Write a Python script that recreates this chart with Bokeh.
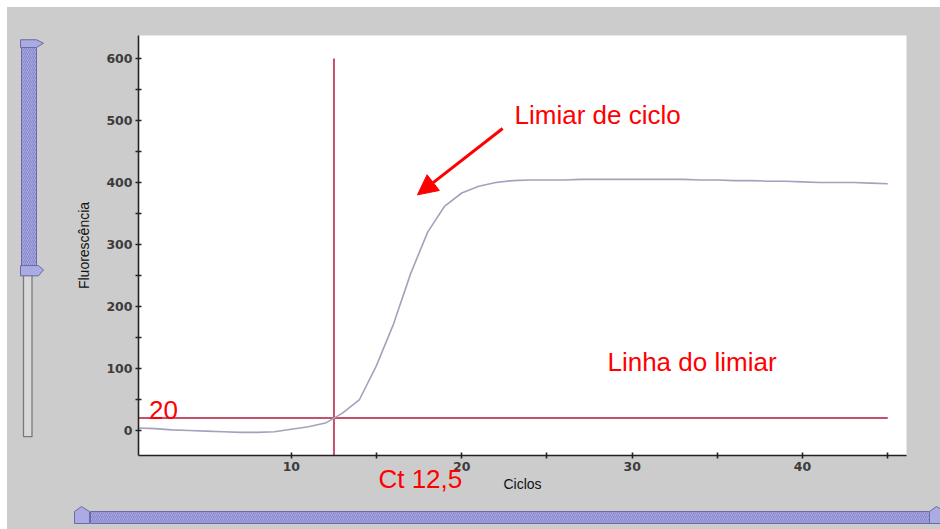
from bokeh.plotting import figure
from bokeh.models import Range1d, FixedTicker, Label, Arrow, NormalHead, LinearAxis, Spacer
from bokeh.layouts import column, row
from bokeh.embed import file_html
from bokeh.resources import INLINE

# ---- data ----
cycles = list(range(1, 46))
fluorescence = [4, 3, 1, 0, -1, -2, -3, -3, -2, 2, 6, 12, 28, 50, 105, 172, 253, 320, 362, 383,
                394, 400, 403, 404, 404, 404, 405, 405, 405, 405, 405, 405, 405, 404, 404, 403,
                403, 402, 402, 401, 400, 400, 400, 399, 398]
ct_value = 12.5
ct_text = "Ct 12,5"
threshold = 20
ct_line_top = 600
threshold_x = [1, 45]
x_major_ticks = [10, 20, 30, 40]
x_minor_ticks = [15, 25, 35, 45]
y_major_ticks = [0, 100, 200, 300, 400, 500, 600]
y_minor_ticks = [50, 150, 250, 350, 450, 550]

BG = "#cccccc"
RED_LINE = "#c4506c"
CURVE = "#a2a2bc"
FONT = "Liberation Sans"

# ---- main chart ----
p = figure(width=880, height=491, x_range=Range1d(1.03, 46.1), y_range=Range1d(-40.3, 637),
           output_backend="svg", toolbar_location=None,
           min_border_left=78, min_border_right=34, min_border_top=28, min_border_bottom=43,
           border_fill_color=BG, background_fill_color="white", outline_line_color=None)
p.grid.visible = False

p.xaxis.ticker = FixedTicker(ticks=x_major_ticks, minor_ticks=x_minor_ticks)
p.yaxis.ticker = FixedTicker(ticks=y_major_ticks, minor_ticks=y_minor_ticks)
p.yaxis.axis_label = "Fluorescência"
for ax in p.axis:
    ax.axis_line_color = "#222222"
    ax.axis_line_width = 1.6
    ax.major_tick_line_color = "#222222"
    ax.minor_tick_line_color = "#222222"
    ax.major_tick_line_width = 1.6
    ax.minor_tick_line_width = 1.6
    ax.major_tick_in = 3
    ax.major_tick_out = 3
    ax.minor_tick_in = 3
    ax.minor_tick_out = 3
    ax.major_label_standoff = 3
    ax.major_label_text_font = "DejaVu Sans"
    ax.major_label_text_font_style = "bold"
    ax.major_label_text_font_size = "12.5px"
    ax.major_label_text_color = "#3c3c3c"
    ax.axis_label_text_font = FONT
    ax.axis_label_text_font_style = "normal"
    ax.axis_label_text_font_size = "14px"
    ax.axis_label_text_color = "#111111"
p.yaxis.axis_label_standoff = 11

# second, label-only axis below: carries the "Ct 12,5" note and the "Ciclos" title
ct_label_pos = 17.57
ct_axis = LinearAxis(ticker=FixedTicker(ticks=[ct_label_pos]),
                     major_label_overrides={ct_label_pos: ct_text},
                     axis_line_color=None, major_tick_line_color=None, minor_tick_line_color=None,
                     major_tick_in=0, major_tick_out=0, minor_tick_in=0, minor_tick_out=0,
                     major_label_standoff=-10, major_label_text_font=FONT,
                     major_label_text_font_size="26px", major_label_text_color="red",
                     axis_label="Ciclos", axis_label_standoff=-21, axis_label_text_font=FONT,
                     axis_label_text_font_style="normal", axis_label_text_font_size="14px",
                     axis_label_text_color="#111111")
p.add_layout(ct_axis, "below")

# threshold & Ct lines
p.line(threshold_x, [threshold, threshold], line_color=RED_LINE, line_width=2)
p.line([ct_value, ct_value], [ct_line_top, p.y_range.start], line_color=RED_LINE, line_width=2)
# amplification curve
p.line(cycles, fluorescence, line_color=CURVE, line_width=1.6)

lab = dict(text_font=FONT, text_font_size="26px", text_color="red", text_baseline="middle")
p.add_layout(Label(x=1.65, y=33, text=str(threshold), **lab))
p.add_layout(Label(x=23.1, y=508, text="Limiar de ciclo", **lab))
p.add_layout(Label(x=28.55, y=111, text="Linha do limiar", **lab))
p.add_layout(Arrow(end=NormalHead(size=20, fill_color="red", line_color="red"),
                   x_start=22.4, y_start=487, x_end=17.4, y_end=380,
                   line_color="red", line_width=3))

# ---- decorative scroll bars ----
SL_FILL = "#a6a6e0"
SL_CAP = "#ababe4"
SL_HATCH = "#8686cc"
SL_LINE = "#6a6aa6"

left = figure(width=53, height=491, x_range=Range1d(7, 60), y_range=Range1d(498, 7),
              output_backend="svg", toolbar_location=None, x_axis_type=None, y_axis_type=None,
              min_border=0, border_fill_color=BG, background_fill_color=BG, outline_line_color=None)
left.grid.visible = False
left.quad(left=23, right=31.5, top=287, bottom=476, fill_color="#d8d8d8", line_color="#7a7a7a",
          line_width=1.3)
left.quad(left=21, right=36, top=21, bottom=276, fill_color=SL_FILL, line_color=SL_LINE,
          hatch_pattern="/", hatch_color=SL_HATCH, hatch_scale=4, hatch_weight=1)
left.patch([20, 36, 43, 36, 20], [12, 12, 16, 21, 21], fill_color=SL_CAP, line_color=SL_LINE)
left.patch([20, 38, 43, 38, 20], [276, 276, 281, 288, 288], fill_color=SL_CAP, line_color=SL_LINE)

bottom = figure(width=933, height=31, x_range=Range1d(7, 940), y_range=Range1d(529, 498),
                output_backend="svg", toolbar_location=None, x_axis_type=None, y_axis_type=None,
                min_border=0, border_fill_color=BG, background_fill_color=BG, outline_line_color=None)
bottom.grid.visible = False
bottom.quad(left=90, right=929, top=511, bottom=523, fill_color=SL_FILL, line_color=SL_LINE,
            hatch_pattern="/", hatch_color=SL_HATCH, hatch_scale=4, hatch_weight=1)
bottom.patch([74, 74, 81, 89, 89], [523, 511, 506, 511, 523], fill_color=SL_CAP, line_color=SL_LINE)
bottom.patch([929, 929, 936, 944, 944], [523, 511, 506, 511, 523], fill_color=SL_CAP, line_color=SL_LINE)

bg_style = {"background-color": BG}
charts = column(row(left, p, styles=bg_style), bottom, styles=bg_style)
layout = column(Spacer(width=940, height=7),
                row(Spacer(width=7, height=522), charts))
open("out.html", "w").write(file_html(layout, INLINE))
